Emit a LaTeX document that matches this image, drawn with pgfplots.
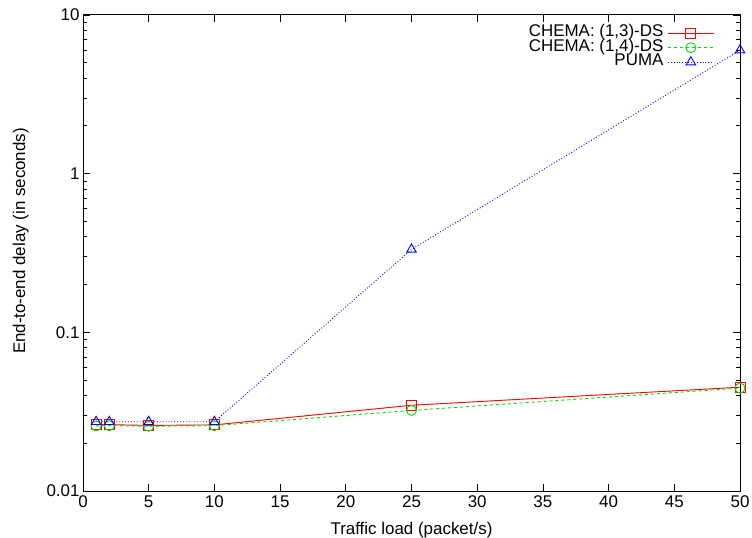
\documentclass[border=0pt]{standalone}
\usepackage{pgfplots}
\pgfplotsset{compat=1.18}
\usepackage{fontspec}
\setmainfont{Liberation Sans}
\definecolor{gpgreen}{RGB}{0,220,0}
\begin{document}
\begin{tikzpicture}[x=1bp,y=1bp]
\useasboundingbox (0,0) rectangle (752,538);
\begin{axis}[
  at={(83bp,47bp)}, anchor=south west,
  scale only axis, width=657bp, height=476bp,
  xmin=0, xmax=50, ymode=log, ymin=0.01, ymax=10,
  xtick={0,5,...,50},
  ytick={0.01,0.1,1,10},
  yticklabels={0.01,0.1,1,10},
  /pgf/number format/assume math mode=true,
  tick label style={font=\fontsize{17}{19}\selectfont},
  xticklabel style={yshift=-1bp},
  label style={font=\fontsize{17}{19}\selectfont},
  major tick length=7bp, minor tick length=4bp,
  tick align=inside,
  xtick pos=both, ytick pos=both,
  axis line style={line width=1bp},
  every tick/.style={black, line width=0.8bp},
  xlabel={Traffic load (packet/s)},
  ylabel={End-to-end delay (in seconds)},
  xlabel style={yshift=-8bp},
  ylabel style={yshift=11bp, xshift=12bp},
  legend style={at={(axis description cs:0.9612,0.9774)}, anchor=north east, draw=none, fill=none,
    font=\fontsize{17}{19}\selectfont, row sep=0bp, inner sep=0bp,
    nodes={inner sep=0bp, text height=11bp, text depth=3.5bp}, column sep=4bp},
  legend cell align=right,
  legend plot pos=right,
  legend image code/.code={%
    \draw[#1] (0bp,0bp) -- (46bp,0bp);
    \draw[#1, only marks] plot coordinates {(23bp,0bp)};},
]
\addplot[color=red, draw=red, line width=0.9bp, mark=square, mark size=5bp, mark options={solid, draw=red}]
  coordinates {(1,0.0262) (2,0.0262) (5,0.0259) (10,0.0261) (25,0.0347) (50,0.0451)};
\addlegendentry{CHEMA: (1,3)-DS}
\addplot[color=gpgreen, draw=gpgreen, line width=0.9bp, dashed, mark=o, mark size=5bp, mark options={solid, draw=gpgreen}]
  coordinates {(1,0.0257) (2,0.0258) (5,0.0256) (10,0.0258) (25,0.0322) (50,0.0445)};
\addlegendentry{CHEMA: (1,4)-DS}
\addplot[color=blue, draw=blue, line width=0.9bp, dotted, mark=triangle, mark size=5.5bp, mark options={solid, draw=blue}]
  coordinates {(1,0.0273) (2,0.0273) (5,0.0273) (10,0.0273) (25,0.333) (50,6.0)};
\addlegendentry{PUMA}
\end{axis}
\end{tikzpicture}
\end{document}
